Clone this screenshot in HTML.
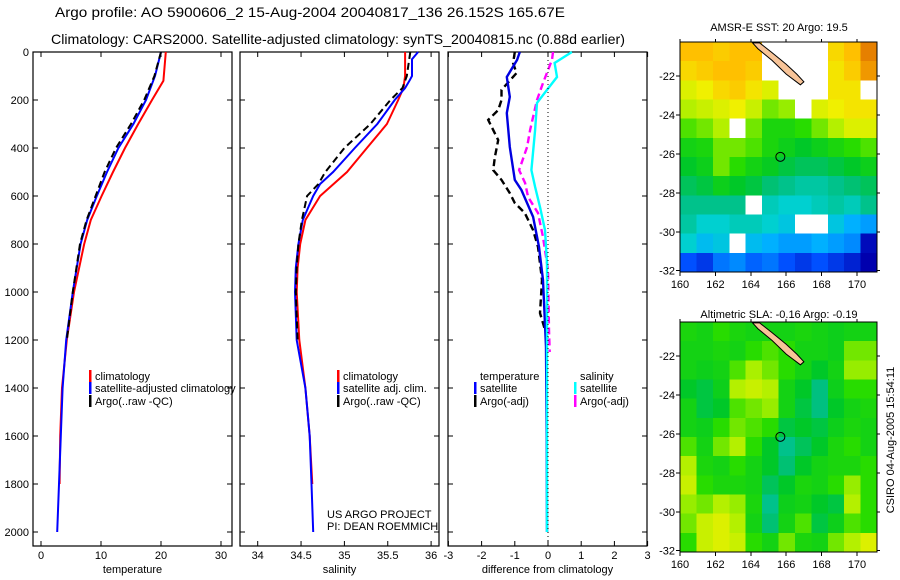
<!DOCTYPE html>
<html><head><meta charset="utf-8"><style>
html,body{margin:0;padding:0;background:#fff;}
svg{display:block;font-family:"Liberation Sans",sans-serif;}
</style></head><body>
<svg id="chart" width="900" height="580" viewBox="0 0 900 580" xmlns="http://www.w3.org/2000/svg">
<text x="55" y="17" font-size="14" textLength="510" lengthAdjust="spacingAndGlyphs">Argo profile: AO 5900606_2 15-Aug-2004 20040817_136 26.152S 165.67E</text>
<text x="51" y="44" font-size="14" textLength="574" lengthAdjust="spacingAndGlyphs">Climatology: CARS2000. Satellite-adjusted climatology: synTS_20040815.nc (0.88d earlier)</text>
<g id="plots"></g>
<text x="327" y="518" font-size="11">US ARGO PROJECT</text>
<text x="327" y="530" font-size="11">PI: DEAN ROEMMICH</text>
<text x="779" y="31" font-size="11" text-anchor="middle">AMSR-E SST: 20 Argo: 19.5</text>
<text x="779" y="318" font-size="11" text-anchor="middle">Altimetric SLA: -0.16 Argo: -0.19</text>
<text transform="translate(894,440) rotate(-90)" font-size="11" text-anchor="middle">CSIRO 04-Aug-2005 15:54:11</text>
</svg>
<script>
// ---- data ----
const depthTicks = [0,200,400,600,800,1000,1200,1400,1600,1800,2000];
const tempTicks = [0,10,20,30];
const salTicks = [34,34.5,35,35.5,36];
const diffTicks = [-3,-2,-1,0,1,2,3];
const tClimDepth = [0,120,200,300,400,500,600,700,800,1000,1200,1400,1600,1800];
const tClim = [20.8,20.4,18.5,16.2,14,12,10.1,8.3,7.2,5.5,4.3,3.5,3.2,3.1];
const tSatDepth = [0,100,200,300,400,500,600,700,800,1000,1200,1400,1600,1800,2000];
const tSat = [20,19,17.5,15.4,12.9,11,9.3,7.7,6.6,5.3,4.2,3.6,3.3,3,2.7];
const tArgoDepth = [0,100,200,300,400,500,600,700,800,1000,1200];
const tArgo = [20,18.9,17.2,15,12.5,10.6,9.1,7.6,6.5,5.3,4.3];
const sClimDepth = [0,100,150,200,300,400,500,600,700,800,900,1000,1200,1400,1600,1800];
const sClim = [35.70,35.70,35.68,35.62,35.49,35.26,35.03,34.72,34.55,34.49,34.46,34.45,34.48,34.55,34.60,34.63];
const sSatDepth = [0,30,100,120,150,200,300,400,500,550,600,700,800,900,1000,1200,1400,1600,1800,2000];
const sSat = [35.85,35.78,35.78,35.75,35.70,35.58,35.38,35.12,34.87,34.72,34.64,34.52,34.47,34.44,34.43,34.45,34.55,34.60,34.62,34.64];
const sArgoDepth = [0,100,150,200,300,400,500,550,600,700,800,900,1000,1200];
const sArgo = [35.76,35.72,35.67,35.53,35.30,35.0,34.78,34.70,34.57,34.51,34.47,34.45,34.44,34.46];
const dtArgoDepth = [0,46,88,158,200,242,283,367,437,492,533,588,629,671,742,812,950,1088,1200];
const dtArgo = [-1.0,-1.05,-0.95,-1.4,-1.4,-1.5,-1.8,-1.5,-1.6,-1.65,-1.4,-1.15,-1.0,-0.7,-0.45,-0.3,-0.18,-0.24,0];
const dtSatDepth = [0,33,104,187,254,396,533,575,687,812,950,1229,1600,2000];
const dtSat = [-0.85,-0.93,-1.24,-1.15,-1.24,-1.15,-1.0,-0.8,-0.45,-0.27,-0.15,-0.06,-0.04,-0.03];
const dsSatDepth = [0,46,104,158,212,325,492,562,646,742,879,1200,1600,2000];
const dsSat = [0.72,0.2,0.27,-0.03,-0.33,-0.39,-0.5,-0.39,-0.24,-0.09,-0.03,-0.03,-0.03,-0.03];
const dsArgoDepth = [0,33,129,200,325,396,492,546,604,671,771,908,1158,1250];
const dsArgo = [0.15,0.12,-0.15,-0.33,-0.54,-0.63,-0.87,-0.69,-0.6,-0.3,-0.15,0,0.03,0.05];
const lonTicks = [160,162,164,166,168,170];
const latTicks = [-22,-24,-26,-28,-30,-32];
const sstGrid = [
[.80,.80,.78,.80,.80,-1,-1,-1,-1,.76,.80,.88],
[.76,.78,.80,.80,.78,-1,-1,-1,-1,.74,.78,.85],
[.70,.72,.76,.78,.74,.70,-1,-1,-1,.74,.74,-1],
[.66,.68,.70,.72,.68,.62,.64,-1,.70,.72,.74,.74],
[.60,.62,.66,-1,.62,.56,.56,.58,.62,.66,.70,.70],
[.55,.56,.62,.62,.60,.56,.54,.52,.54,.56,.58,.60],
[.52,.54,.62,.58,.55,.53,.50,.48,.48,.50,.52,.54],
[.48,.50,.54,.52,.50,.46,.44,.42,.42,.44,.46,.48],
[.44,.44,.44,.44,-1,.40,.38,.38,.40,.42,.40,.44],
[.42,.38,.38,.40,.40,.38,.36,-1,-1,.36,.32,.30],
[.38,.34,.36,-1,.34,.32,.30,.30,.32,.30,.28,.16],
[.22,.20,.26,.28,.24,.26,.22,.20,.22,.20,.18,.14]];
const slaGrid = [
[.56,.55,.58,.56,.55,.55,.55,.56,.55,.54,.55,.55],
[.55,.55,.56,.55,.58,.60,.58,.55,.55,.54,.62,.62],
[.55,.54,.55,.60,.65,.62,.58,.55,.52,.55,.64,.64],
[.52,.50,.54,.66,.68,.66,.55,.52,.45,.54,.58,.58],
[.55,.50,.52,.60,.62,.64,.55,.50,.45,.52,.55,.56],
[.55,.54,.58,.62,.60,.58,.50,.52,.50,.54,.56,.55],
[.60,.55,.62,.66,.58,.52,.44,.48,.52,.56,.58,.55],
[.66,.56,.55,.58,.55,.52,.46,.52,.55,.56,.56,.58],
[.68,.58,.56,.56,.55,.48,.52,.56,.55,.58,.64,.58],
[.64,.62,.66,.64,.56,.44,.54,.55,.52,.50,.66,.58],
[.62,.68,.70,.66,.55,.46,.55,.60,.50,.54,.60,.58],
[.58,.68,.70,.68,.58,.55,.62,.56,.55,.62,.66,.70]];
const floatLon = 165.67, floatLat = -26.152;
const islandLon = [164.1,164.5,165.2,166.0,166.6,167.0,166.8,166.0,165.2,164.4];
const islandLat = [-20.3,-20.3,-20.8,-21.4,-21.9,-22.3,-22.45,-21.9,-21.2,-20.6];

// ---- helpers ----
const NS='http://www.w3.org/2000/svg';
const root=document.getElementById('plots');
function mk(tag,attrs,parent){const e=document.createElementNS(NS,tag);for(const k in attrs)e.setAttribute(k,attrs[k]);(parent||root).appendChild(e);return e;}
const Y0=52, YPX=0.24, PB=546;
const yD=d=>Y0+d*YPX;
const panels=[
 {name:'temperature',x0:33,x1:232,fx:v=>41+v*6,ticks:tempTicks},
 {name:'salinity',x0:240,x1:439,fx:v=>257.7+(v-34)*86.7,ticks:salTicks},
 {name:'difference from climatology',x0:448,x1:647,fx:v=>548+v*33.2,ticks:diffTicks}];
panels.forEach((p,i)=>{
 const g=mk('g',{});
 
 
 const r=mk('rect',{x:p.x0,y:Y0,width:p.x1-p.x0,height:PB-Y0,fill:'none',stroke:'#000','stroke-width':1.2},g);
 
 
 p.ticks.forEach(t=>{const x=p.fx(t);
  mk('line',{x1:x,x2:x,y1:PB,y2:PB-5,stroke:'#000'},g);mk('line',{x1:x,x2:x,y1:Y0,y2:Y0+5,stroke:'#000'},g);
  const tx=mk('text',{x:x,y:559,'font-size':11,'text-anchor':'middle'},g);tx.textContent=t;
  
  });
 depthTicks.forEach(d=>{const y=yD(d);
  mk('line',{x1:p.x0,x2:p.x0+5,y1:y,y2:y,stroke:'#000'},g);mk('line',{x1:p.x1,x2:p.x1-5,y1:y,y2:y,stroke:'#000'},g);
  if(i===0){const tx=mk('text',{x:29,y:y+4,'font-size':11,'text-anchor':'end'},g);tx.textContent=d;
   
   }});
 const xt=mk('text',{x:(p.x0+p.x1)/2,y:573,'font-size':11,'text-anchor':'middle'},g);xt.textContent=p.name;
 
 
 p.g=g;});
const zl=mk('line',{x1:548,x2:548,y1:Y0,y2:PB,stroke:'#000','stroke-dasharray':'1,3'});


function series(p,depths,vals,color,dash,name,w){
 const pts=depths.map((d,k)=>p.fx(vals[k]).toFixed(1)+','+yD(d).toFixed(1)).join(' ');
 const e=mk('polyline',{points:pts,fill:'none',stroke:color,'stroke-width':w||2,'stroke-dasharray':dash||'none'},p.g);
 
 }
series(panels[0],tClimDepth,tClim,'#f00',null,'temp-climatology-line');
series(panels[0],tSatDepth,tSat,'#00f',null,'temp-satellite-line');
series(panels[0],tArgoDepth,tArgo,'#000','7,4','temp-argo-line');
series(panels[1],sClimDepth,sClim,'#f00',null,'sal-climatology-line');
series(panels[1],sSatDepth,sSat,'#00f',null,'sal-satellite-line');
series(panels[1],sArgoDepth,sArgo,'#000','7,4','sal-argo-line');
series(panels[2],dtArgoDepth,dtArgo,'#000','7,4','diff-temp-argo-line',2.4);
series(panels[2],dtSatDepth,dtSat,'#0000e0',null,'diff-temp-satellite-line',2.4);
series(panels[2],dsArgoDepth,dsArgo,'#f0f','7,4','diff-sal-argo-line',2.4);
series(panels[2],dsSatDepth,dsSat,'#0ff',null,'diff-sal-satellite-line',2.4);
function leg(x,y,color,label,name){
 if(color){const m=mk('rect',{x:x,y:y-10,width:2.5,height:12,fill:color});
  
  }
 const t=mk('text',{x:x+6,y:y,'font-size':11});t.textContent=label;
 
 }
leg(89,380,'#f00','climatology','legend-temp-climatology');
leg(89,392,'#00f','satellite-adjusted climatology','legend-temp-satellite');
leg(89,405,'#000','Argo(..raw -QC)','legend-temp-argo');
leg(337,380,'#f00','climatology','legend-sal-climatology');
leg(337,392,'#00f','satellite adj. clim.','legend-sal-satellite');
leg(337,405,'#000','Argo(..raw -QC)','legend-sal-argo');
leg(474,380,null,'temperature','legend-diff-temp-header');
leg(474,392,'#00f','satellite','legend-diff-temp-satellite');
leg(474,405,'#000','Argo(-adj)','legend-diff-temp-argo');
leg(574,380,null,'salinity','legend-diff-sal-header');
leg(574,392,'#0ff','satellite','legend-diff-sal-satellite');
leg(574,405,'#f0f','Argo(-adj)','legend-diff-sal-argo');

// ---- maps ----
const stops=[[0,[0,0,140]],[.15,[0,0,176]],[.22,[0,80,255]],[.32,[0,176,255]],[.38,[0,208,208]],[.45,[0,192,128]],[.52,[0,200,40]],[.58,[40,220,0]],[.65,[170,240,0]],[.72,[240,240,0]],[.8,[255,192,0]],[.9,[224,112,0]],[1,[200,80,0]]];
function cmap(v){if(v<0)return '#fff';for(let i=1;i<stops.length;i++){if(v<=stops[i][0]){const a=stops[i-1],b=stops[i],f=(v-a[0])/(b[0]-a[0]);return 'rgb('+a[1].map((c,k)=>Math.round(c+(b[1][k]-c)*f)).join(',')+')';}}return 'rgb(200,80,0)';}
function drawMap(top,grid,name){
 const L=680,R=877,T=top,B=top+230;
 const fx=lon=>L+(lon-160)*17.7, fy=lat=>T+34+(-22-lat)*19.47;
 const g=mk('g',{'shape-rendering':'crispEdges'});
 
 
 const rows=grid.length,cols=grid[0].length,cw=(R-L)/cols,ch=(B-T)/rows;
 grid.forEach((row,r)=>row.forEach((v,c)=>{const e=mk('rect',{x:L+c*cw,y:T+r*ch,width:cw+0.5,height:ch+0.5,fill:cmap(v)},g);
  
  }));
 const isl=mk('polygon',{points:islandLon.map((lo,k)=>fx(lo).toFixed(1)+','+fy(islandLat[k]).toFixed(1)).join(' '),fill:'#f8c498',stroke:'#000','stroke-width':1,'shape-rendering':'auto'},g);
 
 
 const c=mk('circle',{cx:fx(floatLon),cy:fy(floatLat),r:4.5,fill:'none',stroke:'#000','stroke-width':1,'shape-rendering':'auto'},g);
 
 
 mk('rect',{x:L,y:T,width:R-L,height:B-T,fill:'none',stroke:'#000'},g);
 lonTicks.forEach(lo=>{const x=fx(lo);mk('line',{x1:x,x2:x,y1:B,y2:B+4,stroke:'#000'},g);mk('line',{x1:x,x2:x,y1:T,y2:T-3,stroke:'#000'},g);
  const t=mk('text',{x:x,y:B+16,'font-size':11,'text-anchor':'middle'},g);t.textContent=lo;
  
  });
 latTicks.forEach(la=>{const y=fy(la);mk('line',{x1:L,x2:L-4,y1:y,y2:y,stroke:'#000'},g);mk('line',{x1:R,x2:R+3,y1:y,y2:y,stroke:'#000'},g);
  const t=mk('text',{x:L-5,y:y+4,'font-size':11,'text-anchor':'end'},g);t.textContent=la;
  
  });
}
drawMap(42,sstGrid,'sst-map');
drawMap(322,slaGrid,'sla-map');
</script>
</body></html>
